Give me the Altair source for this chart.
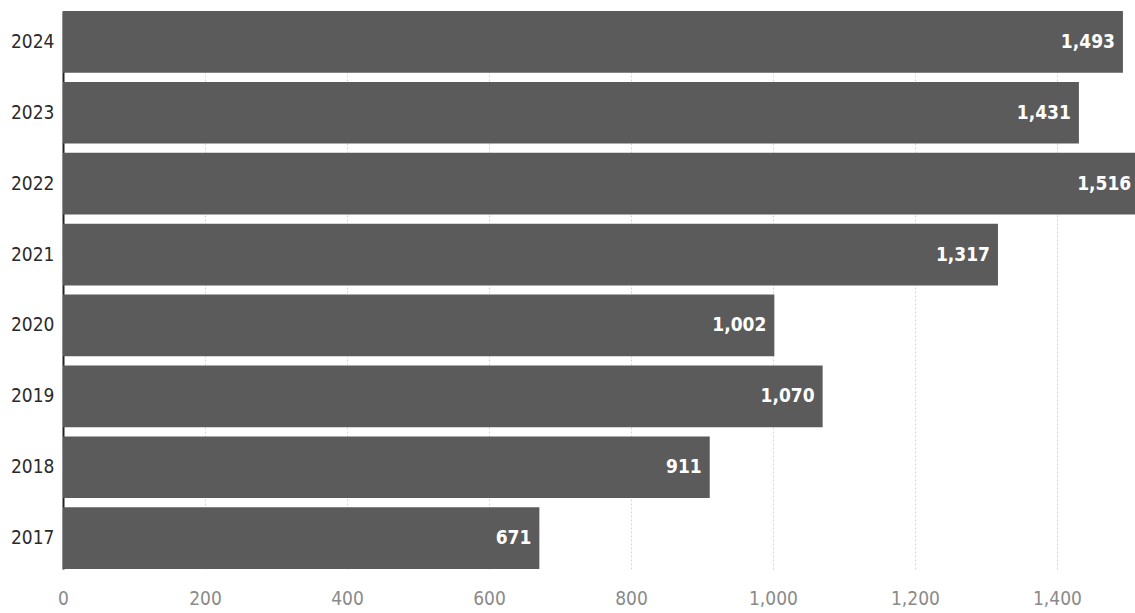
import altair as alt
import pandas as pd

# Yearly totals, newest year on top
years = ["2024", "2023", "2022", "2021", "2020", "2019", "2018", "2017"]
counts = [1493, 1431, 1516, 1317, 1002, 1070, 911, 671]
x_ticks = [0, 200, 400, 600, 800, 1000, 1200, 1400]

df = pd.DataFrame({"year": years, "count": counts})
df["label"] = df["count"].map(lambda v: f"{v:,}")

FONT = "DejaVu Sans Condensed"
BAR_GREY = "#5b5b5b"

y_enc = alt.Y(
    "year:N",
    sort=years,
    scale=alt.Scale(paddingInner=0.13, paddingOuter=0),
    axis=alt.Axis(
        title=None,
        ticks=False,
        domain=True,
        domainColor="#222222",
        domainWidth=2,
        labelFont=FONT,
        labelFontSize=19,
        labelColor="#2b2b2b",
        labelPadding=9,
    ),
)

x_scale = alt.Scale(domain=[0, 1510], nice=False, zero=True)

bars = alt.Chart(df).mark_bar(color=BAR_GREY, clip=True).encode(
    x=alt.X(
        "count:Q",
        scale=x_scale,
        axis=alt.Axis(
            title=None,
            values=x_ticks,
            format=",d",
            ticks=False,
            domain=False,
            grid=True,
            gridColor="#d4d4d4",
            gridWidth=1,
            gridDash=[2, 2],
            labelFont=FONT,
            labelFontSize=19,
            labelColor="#8a8a8a",
            labelPadding=20,
            labelFlush=False,
        ),
    ),
    y=y_enc,
)

labels = alt.Chart(df).mark_text(
    align="right",
    baseline="middle",
    dx=-8,
    color="white",
    font=FONT,
    fontSize=19,
    fontWeight="bold",
).encode(
    x=alt.X("count:Q", scale=x_scale),
    y=alt.Y("year:N", sort=years),
    text="label:N",
)

chart = (
    alt.layer(bars, labels)
    .properties(
        width=1072,
        height=558,
        autosize=alt.AutoSizeParams(type="none"),
        padding={"left": 63, "top": 11, "right": 0, "bottom": 44},
        background="white",
    )
    .configure_view(stroke=None)
)

chart.save("out.html", embed_options={"renderer": "svg", "actions": False})
